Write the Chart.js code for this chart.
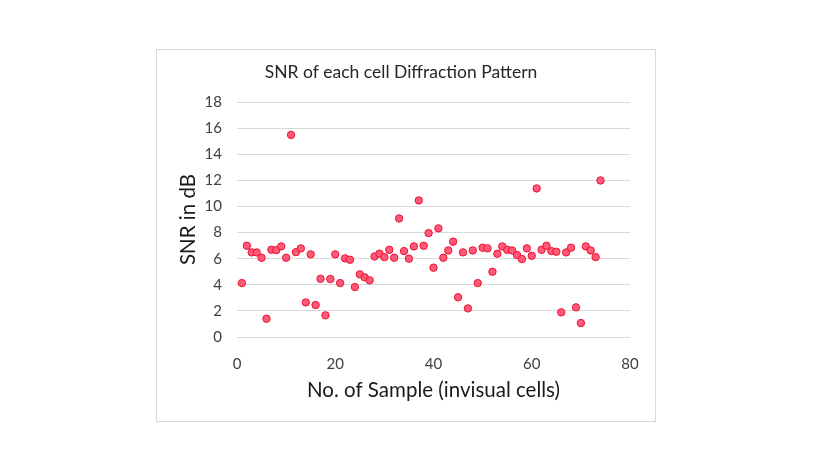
<!DOCTYPE html>
<html>
<head>
<meta charset="utf-8">
<script src="https://cdn.jsdelivr.net/npm/chart.js@4"></script>
<style>
  body { margin: 0; background: #fff; }
  #ram { position: absolute; left: 156px; top: 49px; width: 498px; height: 371px; border: 1px solid #d9d9d9; }
  #wrap { position: absolute; left: 0; top: 0; width: 830px; height: 467px; }
</style>
</head>
<body>
<div id="ram"></div>
<div id="wrap"><canvas id="snrGraf" width="830" height="467"></canvas></div>
<script>
  // prov nr (x) och SNR i dB (y)
  const provNr = [1, 2, 3, 4, 5, 6, 7, 8, 9, 10, 11, 12, 13, 14, 15, 16, 17, 18, 19, 20,
    21, 22, 23, 24, 25, 26, 27, 28, 29, 30, 31, 32, 33, 34, 35, 36, 37, 38, 39, 40,
    41, 42, 43, 44, 45, 46, 47, 48, 49, 50, 51, 52, 53, 54, 55, 56, 57, 58, 59, 60,
    61, 62, 63, 64, 65, 66, 67, 68, 69, 70, 71, 72, 73, 74];
  const snrDb = [4.13, 6.99, 6.48, 6.48, 6.07, 1.40, 6.68, 6.66, 6.94, 6.07,
    15.48, 6.50, 6.79, 2.65, 6.33, 2.45, 4.46, 1.66, 4.44, 6.33,
    4.13, 6.02, 5.92, 3.83, 4.80, 4.57, 4.34, 6.17, 6.38, 6.12,
    6.68, 6.07, 9.08, 6.58, 6.00, 6.94, 10.46, 6.99, 7.96, 5.31,
    8.32, 6.07, 6.63, 7.30, 3.04, 6.48, 2.19, 6.63, 4.13, 6.84,
    6.79, 5.00, 6.38, 6.94, 6.68, 6.63, 6.28, 5.97, 6.79, 6.22,
    11.38, 6.68, 6.99, 6.58, 6.53, 1.89, 6.48, 6.84, 2.27, 1.07,
    6.94, 6.63, 6.12, 11.99];
  const xTicks = [0, 20, 40, 60, 80];
  const yTicks = [0, 2, 4, 6, 8, 10, 12, 14, 16, 18];

  const punkter = provNr.map((x, i) => ({ x: x, y: snrDb[i] }));
  const typsnitt = "Lato, 'Open Sans', sans-serif";

  const ctx = document.getElementById("snrGraf").getContext("2d");
  const snrChart = new Chart(ctx, {
    type: 'scatter',
    data: {
      datasets: [{
        label: 'SNR',
        data: punkter,
        pointRadius: 3.7,
        pointHoverRadius: 3.7,
        borderWidth: 1,
        backgroundColor: '#ff5a7a',
        borderColor: '#f0102e'
      }]
    },
    options: {
      responsive: false,
      animation: false,
      layout: { padding: { left: 172, right: 200, top: 62, bottom: 60 } },
      plugins: {
        legend: { display: false },
        tooltip: { enabled: false },
        title: {
          display: true,
          text: 'SNR of each cell Diffraction Pattern',
          color: '#262626',
          font: { family: typsnitt, size: 17.5, weight: 'normal' },
          padding: { top: 0, bottom: 19 }
        }
      },
      scales: {
        x: {
          type: 'linear',
          min: 0, max: 80,
          afterBuildTicks: s => { s.ticks = xTicks.map(v => ({ value: v })); },
          afterFit: s => { s.height = 70; },
          grid: { display: false },
          border: { display: false },
          ticks: { color: '#404040', padding: 10, font: { family: typsnitt, size: 15 } },
          title: {
            display: true,
            text: 'No. of Sample (invisual cells)',
            color: '#1a1a1a',
            font: { family: typsnitt, size: 20.5 }
          }
        },
        y: {
          min: 0, max: 18,
          afterBuildTicks: s => { s.ticks = yTicks.map(v => ({ value: v })); },
          afterFit: s => { s.width = 65; },
          grid: { color: '#d9d9d9', drawTicks: false },
          border: { display: false },
          ticks: { color: '#404040', padding: 15, font: { family: typsnitt, size: 15 } },
          title: {
            display: true,
            text: 'SNR in dB',
            color: '#1a1a1a',
            font: { family: typsnitt, size: 20.5 }
          }
        }
      }
    }
  });
</script>
</body>
</html>
